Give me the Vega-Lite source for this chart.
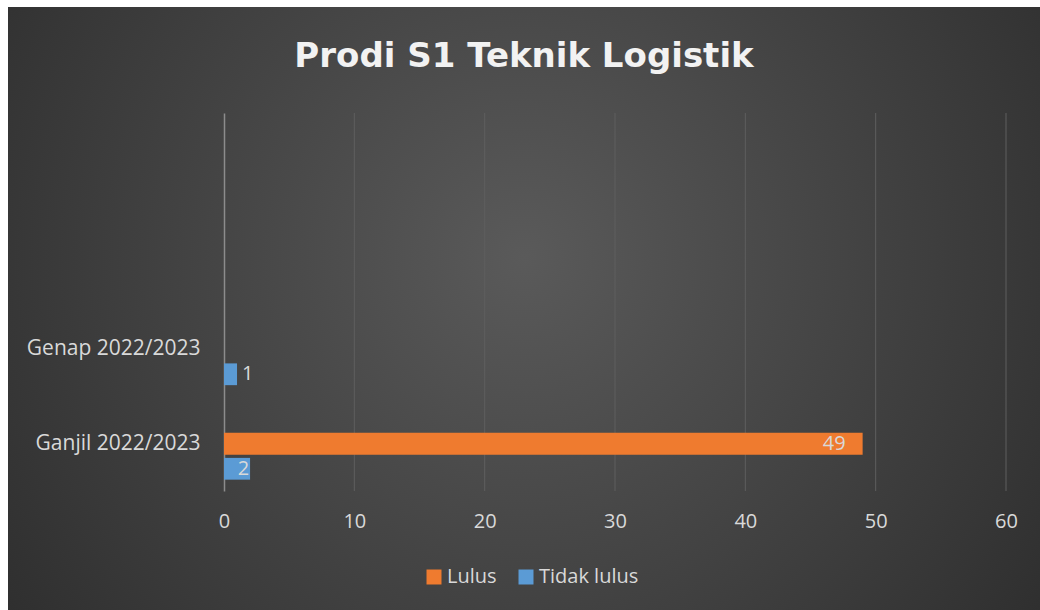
{
  "$schema": "https://vega.github.io/schema/vega-lite/v6.json",
  "width": 1032,
  "height": 603,
  "autosize": {"type": "none"},
  "padding": {"left": 8, "top": 7, "right": 0, "bottom": 0},
  "background": "#ffffff",
  "config": {
    "view": {
      "stroke": null,
      "fill": {"expr": "{gradient: 'radial', x1: 0.5, y1: 0.45, x2: 0.5, y2: 0.45, r1: 0, r2: 0.75, stops: [{offset: 0, color: '#5a5a5a'}, {offset: 1, color: '#252525'}]}"}
    },
    "font": "Open Sans"
  },
  "title": {
    "text": "Prodi S1 Teknik Logistik",
    "font": "DejaVu Sans",
    "fontSize": 34,
    "fontWeight": "bold",
    "color": "#f2f2f2",
    "anchor": "middle",
    "frame": "group",
    "baseline": "alphabetic",
    "offset": 0,
    "dy": 94
  },
  "datasets": {
    "bars": [
      {"semester": "Ganjil 2022/2023", "series": "Lulus", "value": 49},
      {"semester": "Ganjil 2022/2023", "series": "Tidak lulus", "value": 2},
      {"semester": "Genap 2022/2023", "series": "Tidak lulus", "value": 1}
    ],
    "grid": [
      {"tick": 10}, {"tick": 20}, {"tick": 30}, {"tick": 40}, {"tick": 50}, {"tick": 60}
    ]
  },
  "resolve": {"scale": {"y": "independent"}},
  "layer": [
    {
      "data": {"name": "grid"},
      "mark": {"type": "rule", "color": "#5e5e5e", "strokeWidth": 1},
      "encoding": {
        "x": {
          "field": "tick", "type": "quantitative",
          "scale": {"domain": [0, 60], "range": [216, 998]},
          "axis": {
            "title": null, "values": [0, 10, 20, 30, 40, 50, 60], "offset": -119,
            "domain": false, "ticks": false, "tickSize": 0, "grid": false, "labelFlush": false,
            "labelColor": "#d9d9d9", "labelFontSize": 20, "labelFont": "Open Sans", "labelPadding": 20
          }
        },
        "y": {"datum": 0, "type": "quantitative", "scale": {"domain": [0, 1], "range": [106, 484]}, "axis": null},
        "y2": {"datum": 1}
      }
    },
    {
      "data": {"name": "bars"},
      "layer": [
        {
          "mark": {"type": "bar"},
          "encoding": {
            "y": {
              "field": "semester", "type": "nominal",
              "scale": {"domain": ["a", "b", "Genap 2022/2023", "Ganjil 2022/2023"], "range": [106, 484], "paddingInner": 0.24, "paddingOuter": 0.12},
              "axis": {
                "title": null, "offset": -216, "ticks": false, "tickSize": 0,
                "domainColor": "#8c8c8c", "domainWidth": 1.5,
                "labelColor": "#d9d9d9", "labelFontSize": 21, "labelFont": "Open Sans",
                "labelPadding": 24, "labelExpr": "datum.value === 'a' || datum.value === 'b' ? '' : datum.value",
                "grid": false
              }
            },
            "yOffset": {"field": "series", "type": "nominal", "scale": {"domain": ["_", "Lulus", "Tidak lulus"], "paddingInner": 0.13, "paddingOuter": 0}},
            "x": {"field": "value", "type": "quantitative"},
            "color": {
              "field": "series", "type": "nominal",
              "scale": {"domain": ["Lulus", "Tidak lulus"], "range": ["#EF7B2F", "#5B9BD5"]},
              "legend": {
                "title": null, "orient": "none", "legendX": 416, "legendY": 560, "direction": "horizontal",
                "symbolType": "square", "symbolSize": 225, "symbolStrokeWidth": 0, "symbolOpacity": 1,
                "labelColor": "#d9d9d9", "labelFontSize": 20, "labelFont": "Open Sans", "labelOffset": 3,
                "columnPadding": 19, "padding": 0
              }
            }
          }
        },
        {
          "mark": {
            "type": "text", "fontSize": 20, "font": "Open Sans", "color": "#d9d9d9", "baseline": "middle",
            "align": {"expr": "datum.series === 'Lulus' || datum.value >= 2 ? 'right' : 'left'"},
            "dx": {"expr": "datum.series === 'Lulus' ? -17 : (datum.value >= 2 ? -1 : 5)"}
          },
          "encoding": {
            "y": {"field": "semester", "type": "nominal"},
            "yOffset": {"field": "series", "type": "nominal"},
            "x": {"field": "value", "type": "quantitative"},
            "text": {"field": "value", "type": "quantitative"}
          }
        }
      ]
    }
  ]
}
